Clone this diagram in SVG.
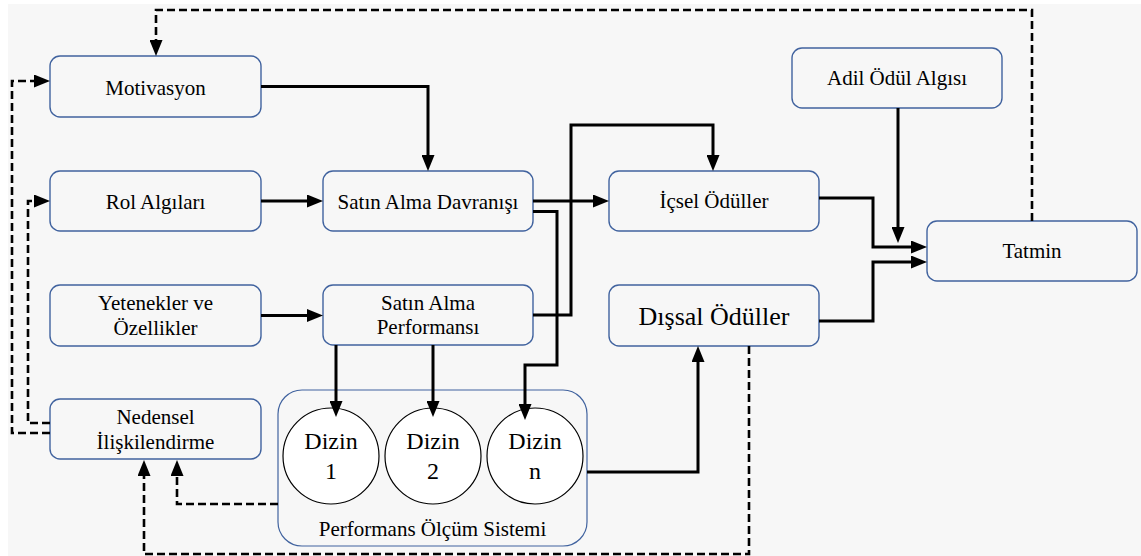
<svg xmlns="http://www.w3.org/2000/svg" width="1141" height="556" viewBox="0 0 1141 556">
  <defs>
    <marker id="arrow" viewBox="0 0 16 13" markerWidth="16" markerHeight="13" refX="6" refY="6.5" orient="auto" markerUnits="userSpaceOnUse">
      <path d="M0,0 L16,6.5 L0,13 z" fill="#000"/>
    </marker>
    <style>
      .box { fill: #f7f7f7; stroke: #41639f; stroke-width: 1.4; }
      .frame { fill: none; stroke: #41639f; stroke-width: 1.2; }
      .dot { fill: #fff; stroke: #000; stroke-width: 1.2; }
    </style>
  </defs>

  <rect x="8" y="4" width="1133" height="552" fill="#f7f7f7"/>

  <g id="motivasyon">
    <rect class="box" x="50" y="56" width="211" height="61" rx="10"/>
    <text x="155.5" y="95" font-size="21" font-family="'Liberation Serif'" text-anchor="middle">Motivasyon</text>
  </g>
  <g id="rol-algilari">
    <rect class="box" x="50" y="171" width="211" height="60" rx="10"/>
    <text x="155.5" y="209" font-size="21" font-family="'Liberation Serif'" text-anchor="middle">Rol Algıları</text>
  </g>
  <g id="yetenekler">
    <rect class="box" x="50" y="285" width="211" height="61" rx="10"/>
    <text x="155.5" y="310" font-size="21" font-family="'Liberation Serif'" text-anchor="middle">Yetenekler ve</text>
    <text x="155.5" y="335" font-size="21" font-family="'Liberation Serif'" text-anchor="middle">Özellikler</text>
  </g>
  <g id="nedensel">
    <rect class="box" x="50" y="399" width="211" height="60" rx="10"/>
    <text x="155.5" y="424" font-size="21" font-family="'Liberation Serif'" text-anchor="middle">Nedensel</text>
    <text x="155.5" y="449" font-size="21" font-family="'Liberation Serif'" text-anchor="middle">İlişkilendirme</text>
  </g>
  <g id="satin-alma-davranisi">
    <rect class="box" x="323" y="171" width="210" height="60" rx="10"/>
    <text x="428" y="209" font-size="21" font-family="'Liberation Serif'" text-anchor="middle">Satın Alma Davranışı</text>
  </g>
  <g id="satin-alma-performansi">
    <rect class="box" x="323" y="285" width="210" height="60" rx="10"/>
    <text x="428" y="310" font-size="21" font-family="'Liberation Serif'" text-anchor="middle">Satın Alma</text>
    <text x="428" y="334" font-size="21" font-family="'Liberation Serif'" text-anchor="middle">Performansı</text>
  </g>
  <g id="icsel-oduller">
    <rect class="box" x="609" y="171" width="210" height="60" rx="10"/>
    <text x="714" y="208" font-size="21" font-family="'Liberation Serif'" text-anchor="middle">İçsel Ödüller</text>
  </g>
  <g id="dissal-oduller">
    <rect class="box" x="609" y="285" width="210" height="61" rx="10"/>
    <text x="714" y="325" font-size="26" font-family="'Liberation Serif'" text-anchor="middle">Dışsal Ödüller</text>
  </g>
  <g id="adil-odul-algisi">
    <rect class="box" x="792" y="48" width="210" height="60" rx="10"/>
    <text x="897" y="85" font-size="21" font-family="'Liberation Serif'" text-anchor="middle">Adil Ödül Algısı</text>
  </g>
  <g id="tatmin">
    <rect class="box" x="927" y="221" width="210" height="60" rx="10"/>
    <text x="1032" y="258" font-size="21" font-family="'Liberation Serif'" text-anchor="middle">Tatmin</text>
  </g>
  <g id="olcum-sistemi">
    <rect class="frame" x="278" y="390" width="309" height="156" rx="24"/>
    <text x="432.5" y="536" font-size="21" font-family="'Liberation Serif'" text-anchor="middle">Performans Ölçüm Sistemi</text>
  </g>
  <g id="dizin-1">
    <circle class="dot" cx="331" cy="456" r="48"/>
    <text x="331" y="449" font-size="24" font-family="'Liberation Serif'" text-anchor="middle">Dizin</text>
    <text x="331" y="479" font-size="24" font-family="'Liberation Serif'" text-anchor="middle">1</text>
  </g>
  <g id="dizin-2">
    <circle class="dot" cx="433" cy="456" r="48"/>
    <text x="433" y="449" font-size="24" font-family="'Liberation Serif'" text-anchor="middle">Dizin</text>
    <text x="433" y="479" font-size="24" font-family="'Liberation Serif'" text-anchor="middle">2</text>
  </g>
  <g id="dizin-n">
    <circle class="dot" cx="535" cy="456" r="48"/>
    <text x="535" y="449" font-size="24" font-family="'Liberation Serif'" text-anchor="middle">Dizin</text>
    <text x="535" y="479" font-size="24" font-family="'Liberation Serif'" text-anchor="middle">n</text>
  </g>

  <g id="connectors" fill="none" stroke="#000">
    <g stroke-width="3" marker-end="url(#arrow)">
      <path d="M261 86.5 H428 V161"/>
      <path d="M261 201 H313"/>
      <path d="M533 201 H599"/>
      <path d="M261 315.5 H313"/>
      <path d="M533 211.5 H557 V365 H525 V410"/>
      <path d="M533 315 H571 V125 H713 V161"/>
      <path d="M336 345 V407"/>
      <path d="M433 345 V407"/>
      <path d="M587 472 H698 V356"/>
      <path d="M819 198 H873 V247 H917"/>
      <path d="M819 321 H873 V262 H917"/>
      <path d="M898 108 V233"/>
    </g>
    <g stroke-width="2.6" stroke-dasharray="8 4" marker-end="url(#arrow)">
      <path d="M1032 221 V10 H156 V46"/>
      <path d="M50 433 H12 V81 H40"/>
      <path d="M50 423 H28 V201 H40"/>
      <path d="M278 504 H177 V470"/>
      <path d="M749 346 V554 H144 V470"/>
    </g>
  </g>
</svg>
